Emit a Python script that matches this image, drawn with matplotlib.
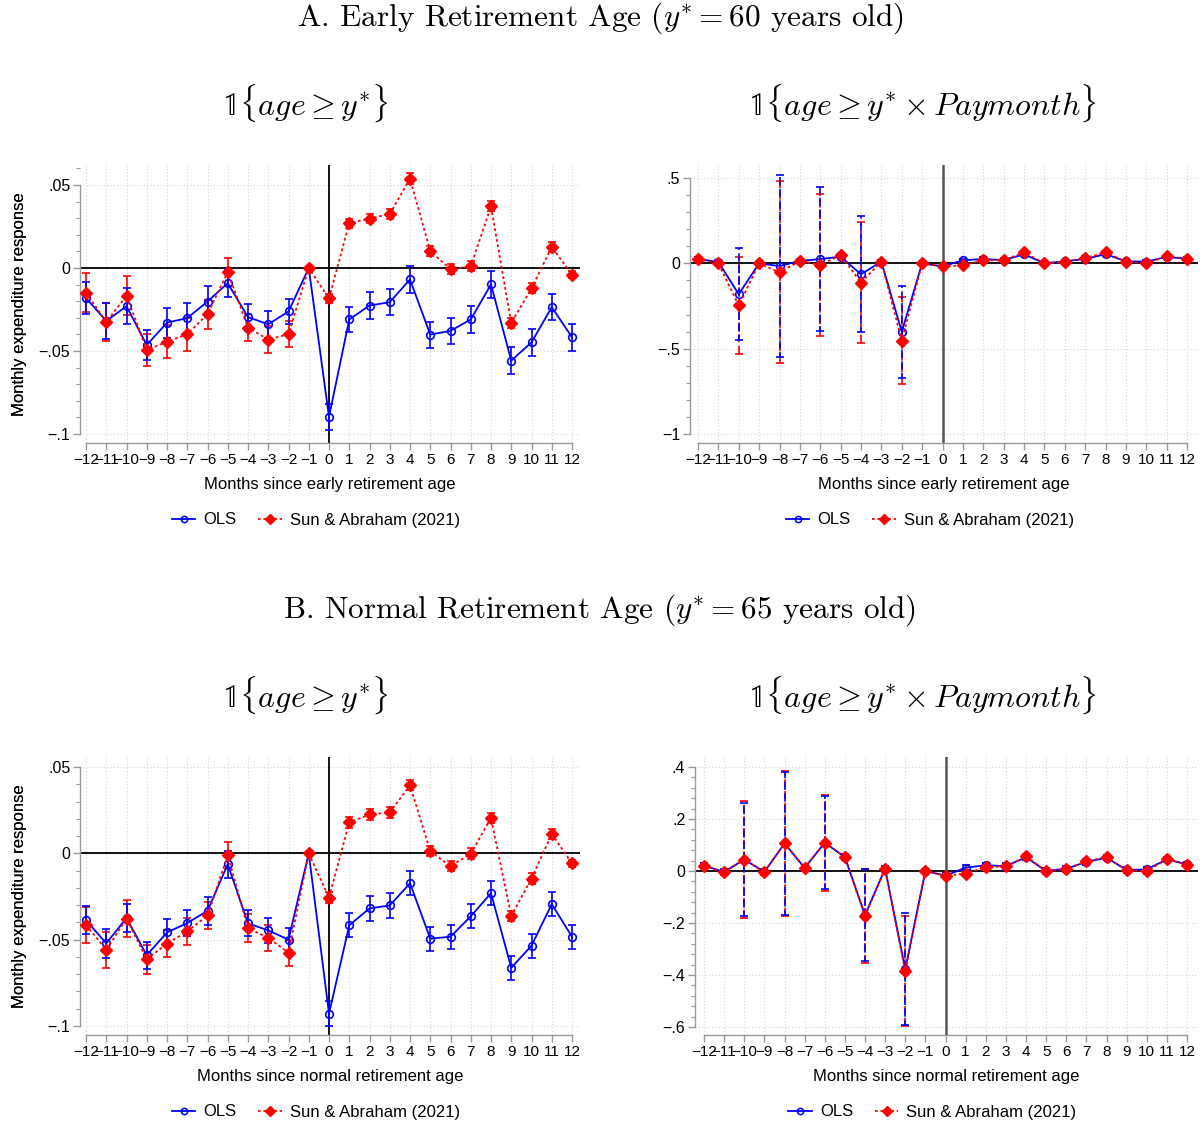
import matplotlib
matplotlib.use("Agg")
import matplotlib.pyplot as plt
from matplotlib.lines import Line2D
from matplotlib.ticker import MultipleLocator
import numpy as np

plt.rcParams['font.family'] = ['Liberation Sans', 'DejaVu Sans']
plt.rcParams['mathtext.fontset'] = 'cm'

months = list(range(-12, 13))
xtick_labels = [str(m).replace('-', '\u2212') for m in months]

# Panel A, 1{age >= y*}
a1_ols = [-0.0181, -0.0319, -0.0230, -0.0464, -0.0329, -0.0302, -0.0202, -0.0091, -0.0296, -0.0339,
          -0.0262, 0.0, -0.0897, -0.0310, -0.0226, -0.0206, -0.0069, -0.0401, -0.0379, -0.0310,
          -0.0099, -0.0558, -0.0448, -0.0236, -0.0417]
a1_ols_ci = [0.0099, 0.0110, 0.0109, 0.0090, 0.0090, 0.0089, 0.0093, 0.0084, 0.0082, 0.0080,
             0.0078, 0.0, 0.0076, 0.0077, 0.0079, 0.0079, 0.0080, 0.0078, 0.0079, 0.0080,
             0.0079, 0.0081, 0.0081, 0.0079, 0.0080]
a1_sa = [-0.0149, -0.0325, -0.0167, -0.0494, -0.0444, -0.0399, -0.0278, -0.0024, -0.0359, -0.0431,
         -0.0399, 0.0, -0.0183, 0.0270, 0.0298, 0.0325, 0.0538, 0.0103, -0.0008, 0.0010,
         0.0371, -0.0331, -0.0123, 0.0127, -0.0040]
a1_sa_ci = [0.0116, 0.0117, 0.0117, 0.0096, 0.0099, 0.0098, 0.0088, 0.0087, 0.0082, 0.0083,
            0.0079, 0.0, 0.0028, 0.0028, 0.0028, 0.0028, 0.0032, 0.0030, 0.0030, 0.0030,
            0.0030, 0.0030, 0.0030, 0.0030, 0.0020]

# Panel A, 1{age >= y* x Paymonth}
a2_ols = [0.025, 0.008, -0.181, 0.0, -0.016, 0.014, 0.025, 0.039, -0.064, 0.010,
          -0.401, 0.0, -0.018, 0.018, 0.025, 0.019, 0.053, 0.0, 0.012, 0.025,
          0.054, 0.012, 0.010, 0.037, 0.027]
a2_ols_ci = [0.01, 0.01, 0.270, 0.005, 0.535, 0.01, 0.420, 0.01, 0.340, 0.01,
             0.270, 0.0, 0.01, 0.01, 0.01, 0.01, 0.01, 0.01, 0.01, 0.01,
             0.01, 0.01, 0.01, 0.01, 0.01]
a2_sa = [0.025, 0.0, -0.247, 0.0, -0.053, 0.014, -0.010, 0.049, -0.113, 0.010,
         -0.453, 0.0, -0.018, -0.012, 0.018, 0.018, 0.064, 0.0, 0.010, 0.031,
         0.064, 0.010, 0.0, 0.041, 0.027]
a2_sa_ci = [0.01, 0.01, 0.287, 0.005, 0.533, 0.01, 0.418, 0.01, 0.354, 0.01,
            0.256, 0.0, 0.01, 0.01, 0.01, 0.01, 0.01, 0.01, 0.01, 0.01,
            0.01, 0.01, 0.01, 0.01, 0.01]

# Panel B, 1{age >= y*}
b1_ols = [-0.0388, -0.0521, -0.0375, -0.0590, -0.0458, -0.0404, -0.0333, -0.0063, -0.0406, -0.0446,
          -0.0500, 0.0, -0.0929, -0.0417, -0.0319, -0.0302, -0.0173, -0.0494, -0.0483, -0.0365,
          -0.0231, -0.0663, -0.0535, -0.0294, -0.0483]
b1_ols_ci = [0.0082, 0.0085, 0.0082, 0.0077, 0.0077, 0.0077, 0.0080, 0.0077, 0.0075, 0.0072,
             0.0067, 0.0, 0.0071, 0.0070, 0.0070, 0.0070, 0.0070, 0.0070, 0.0070, 0.0070,
             0.0070, 0.0070, 0.0070, 0.0070, 0.0070]
b1_sa = [-0.0415, -0.0558, -0.0379, -0.0612, -0.0523, -0.0452, -0.0360, -0.0012, -0.0433, -0.0490,
         -0.0575, 0.0, -0.0256, 0.0179, 0.0225, 0.0237, 0.0394, 0.0013, -0.0075, -0.0002,
         0.0204, -0.0363, -0.0146, 0.0112, -0.0058]
b1_sa_ci = [0.0103, 0.0104, 0.0106, 0.0084, 0.0080, 0.0080, 0.0080, 0.0080, 0.0080, 0.0075,
            0.0075, 0.0, 0.0030, 0.0030, 0.0030, 0.0030, 0.0030, 0.0030, 0.0030, 0.0030,
            0.0030, 0.0030, 0.0030, 0.0030, 0.0020]

# Panel B, 1{age >= y* x Paymonth}
b2_ols = [0.020, -0.003, 0.044, -0.003, 0.106, 0.012, 0.109, 0.053, -0.169, 0.009,
          -0.378, 0.0, -0.018, 0.013, 0.022, 0.019, 0.053, 0.0, 0.009, 0.035,
          0.051, 0.004, 0.006, 0.045, 0.026]
b2_ols_ci = [0.01, 0.01, 0.217, 0.01, 0.275, 0.01, 0.180, 0.01, 0.176, 0.01,
             0.216, 0.0, 0.01, 0.01, 0.01, 0.01, 0.01, 0.01, 0.01, 0.01,
             0.01, 0.01, 0.01, 0.01, 0.01]
b2_sa = [0.020, -0.005, 0.044, -0.005, 0.106, 0.012, 0.109, 0.054, -0.173, 0.008,
         -0.386, 0.0, -0.018, -0.010, 0.015, 0.018, 0.056, -0.001, 0.006, 0.038,
         0.053, 0.003, -0.001, 0.045, 0.024]
b2_sa_ci = [0.01, 0.01, 0.225, 0.01, 0.280, 0.01, 0.185, 0.01, 0.182, 0.01,
            0.212, 0.0, 0.01, 0.01, 0.01, 0.01, 0.01, 0.01, 0.01, 0.01,
            0.01, 0.01, 0.01, 0.01, 0.01]

W, H = 1203, 1129
BLUE = '#0000ff'
RED = '#ff0000'
AXCOL = '#9a9a9a'

fig = plt.figure(figsize=(W / 100, H / 100), dpi=100)


def panel(box, xpix, ypix, yvals, yticks, ytick_labels, yminor, ols, ols_ci, sa, sa_ci,
          xlabel, dashed_ci=False, vcol='black'):
    left, right, top, bottom = box
    ax = fig.add_axes([left / W, 1 - bottom / H, (right - left) / W, (bottom - top) / H])
    sx = (xpix[1] - xpix[0]) / 24.0
    ax.set_xlim(-12 - (xpix[0] - left) / sx, 12 + (right - xpix[1]) / sx)
    sy = (ypix[1] - ypix[0]) / (yvals[0] - yvals[1])
    ax.set_ylim(yvals[1] - (bottom - ypix[1]) / sy, yvals[0] + (ypix[0] - top) / sy)

    for m in months:
        ax.axvline(m, color='#d4d4d4', lw=0.8, ls=(0, (1, 2)), zorder=0)
    for t in yticks:
        ax.axhline(t, color='#d4d4d4', lw=0.8, ls=(0, (1, 2)), zorder=0)
    ax.axhline(0, color='black', lw=1.3, zorder=1)
    ax.axvline(0, color=vcol, lw=1.3 if vcol == 'black' else 1.8, zorder=1)

    x = np.array(months)
    ols = np.array(ols)
    sa = np.array(sa)
    eb1 = ax.errorbar(x, sa, yerr=np.array(sa_ci), fmt='none', ecolor=RED, elinewidth=1.2,
                      capsize=3, capthick=1.2, zorder=2)
    eb2 = ax.errorbar(x, ols, yerr=np.array(ols_ci), fmt='none', ecolor=BLUE, elinewidth=1.2,
                      capsize=3, capthick=1.2, zorder=2)
    if dashed_ci:
        eb1[2][0].set_linestyle((0, (5, 2)))
        eb2[2][0].set_linestyle((2, (5, 2)))
    ax.plot(x, ols, color=BLUE, lw=1.3, marker='o', ms=5.5, mfc='none', mec=BLUE, mew=1.2, zorder=3)
    ax.plot(x, sa, color=RED, lw=1.3, ls=(0, (1.5, 1.5)), marker='D', ms=6.5, mfc=RED, mec=RED,
            zorder=4)

    ax.set_xticks(months)
    ax.set_xticklabels(xtick_labels)
    ax.set_yticks(yticks)
    ax.set_yticklabels(ytick_labels)
    ax.yaxis.set_minor_locator(MultipleLocator(yminor))
    for s in ['top', 'right']:
        ax.spines[s].set_visible(False)
    ax.spines['left'].set_bounds(min(yticks), max(yticks))
    ax.spines['bottom'].set_bounds(-12, 12)
    for s in ['left', 'bottom']:
        ax.spines[s].set_color(AXCOL)
        ax.spines[s].set_linewidth(1.0)
    ax.tick_params(axis='both', which='major', direction='out', length=5, width=1, color=AXCOL,
                   labelsize=11.5, pad=2)
    ax.tick_params(axis='x', labelsize=11, pad=2)
    ax.tick_params(axis='y', which='minor', direction='out', length=3, width=0.8, color=AXCOL)

    ax.set_ylabel('Monthly expenditure response', fontsize=12)
    ax.yaxis.set_label_coords((27 - left) / (right - left), 0.5)
    ax.set_xlabel(xlabel, fontsize=12)
    ax.xaxis.set_label_coords(0.5, -(477 - 443) / 278.0)

    handles = [Line2D([], [], color=BLUE, lw=1.3, marker='o', ms=4.5, mfc='none', mew=1.1),
               Line2D([], [], color=RED, lw=1.3, ls=(0, (1.5, 1.5)), marker='D', ms=5.5)]
    cx = (left + right) / 2.0 - 14
    fig.legend(handles, ['OLS', 'Sun & Abraham (2021)'], loc='center',
               bbox_to_anchor=(cx / W, 1 - (bottom + 77) / H), ncol=2, frameon=False,
               fontsize=12, handlelength=1.4, handletextpad=0.5, columnspacing=1.3)
    return ax


panel((80, 580, 165, 443), (86, 572), (185, 434), (0.05, -0.1),
      [-0.1, -0.05, 0, 0.05], ['\u2212.1', '\u2212.05', '0', '.05'], 0.01,
      a1_ols, a1_ols_ci, a1_sa, a1_sa_ci, 'Months since early retirement age')
panel((690, 1198, 165, 443), (698, 1187), (178, 434), (0.5, -1.0),
      [-1, -0.5, 0, 0.5], ['\u22121', '\u2212.5', '0', '.5'], 0.1,
      a2_ols, a2_ols_ci, a2_sa, a2_sa_ci, 'Months since early retirement age',
      dashed_ci=True, vcol='#555555')
panel((80, 580, 757, 1035), (86, 572), (767, 1026), (0.05, -0.1),
      [-0.1, -0.05, 0, 0.05], ['\u2212.1', '\u2212.05', '0', '.05'], 0.01,
      b1_ols, b1_ols_ci, b1_sa, b1_sa_ci, 'Months since normal retirement age')
panel((695, 1198, 757, 1035), (704, 1187), (767, 1027), (0.4, -0.6),
      [-0.6, -0.4, -0.2, 0, 0.2, 0.4], ['\u2212.6', '\u2212.4', '\u2212.2', '0', '.2', '.4'], 0.04,
      b2_ols, b2_ols_ci, b2_sa, b2_sa_ci, 'Months since normal retirement age',
      dashed_ci=True, vcol='#555555')

fig.text(600 / W, 1 - 18 / H, r'A. Early Retirement Age ($y^{*} = 60$ years old)',
         ha='center', va='center', fontsize=22.5, family='cmr10')
fig.text(600 / W, 1 - 610 / H, r'B. Normal Retirement Age ($y^{*} = 65$ years old)',
         ha='center', va='center', fontsize=22.5, family='cmr10')
for cx, cy in [(305, 103), (305, 695)]:
    fig.text(cx / W, 1 - cy / H, r'$\mathbb{1}\{age \geq y^{*}\}$', ha='center', va='center',
             fontsize=23)
for cx, cy in [(922, 103), (922, 695)]:
    fig.text(cx / W, 1 - cy / H, r'$\mathbb{1}\{age \geq y^{*} \times Paymonth\}$', ha='center',
             va='center', fontsize=23)

fig.savefig('out.png', dpi=100)
